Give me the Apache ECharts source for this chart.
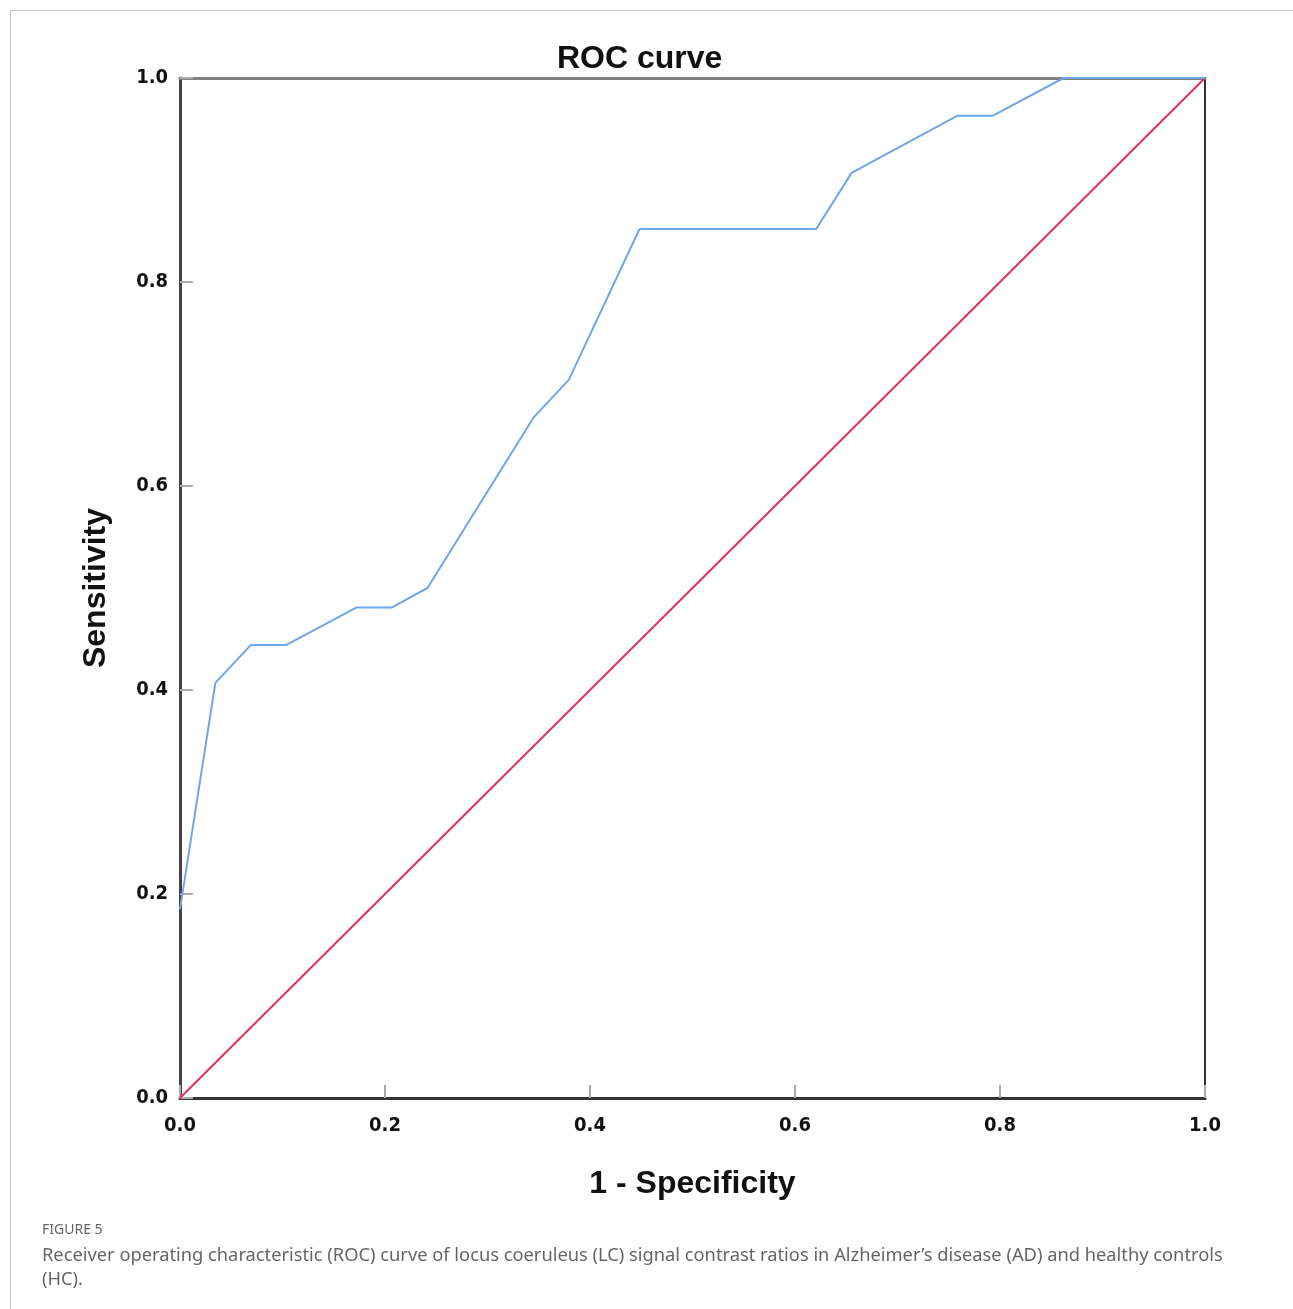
<!DOCTYPE html>
<html>
<head>
<meta charset="utf-8">
<script src="https://cdn.jsdelivr.net/npm/echarts@6/dist/echarts.min.js"></script>
<style>
html,body{margin:0;padding:0;background:#fff;}
#chart{width:1293px;height:1309px;}
</style>
</head>
<body>
<div id="chart"></div>
<script>
// ROC curve points (1 - Specificity, Sensitivity)
const rocX = [0, 0.0345, 0.069, 0.1034, 0.1724, 0.2069, 0.2414, 0.3448, 0.3793, 0.4483, 0.6207, 0.6552, 0.7586, 0.7931, 0.8621, 1.0];
const rocY = [0.185, 0.407, 0.444, 0.444, 0.481, 0.481, 0.5, 0.667, 0.704, 0.852, 0.852, 0.907, 0.963, 0.963, 1.0, 1.0];
// Reference (chance) line
const refX = [0, 1];
const refY = [0, 1];

const titleText = 'ROC curve';
const xName = '1 - Specificity';
const yName = 'Sensitivity';
const figLabel = 'FIGURE 5';
const captionLines = [
  'Receiver operating characteristic (ROC) curve of locus coeruleus (LC) signal contrast ratios in Alzheimer\u2019s disease (AD) and healthy controls',
  '(HC).'
];

const narrow = '"Liberation Sans Narrow", "DejaVu Sans Condensed", "Liberation Sans", sans-serif';
const sans = '"Liberation Sans", Arial, sans-serif';

const chart = echarts.init(document.getElementById('chart'), null, {renderer: 'canvas'});
const labelStyle = {fontFamily: narrow, fontWeight: 'bold', fontSize: 20, color: '#111'};

chart.setOption({
  animation: false,
  backgroundColor: '#fff',
  title: {
    text: titleText,
    left: 552, top: 38,
    textStyle: {fontFamily: sans, fontSize: 32, fontWeight: 'bold', color: '#111'}
  },
  grid: {left: 180, top: 78, width: 1025, height: 1020, containLabel: false},
  xAxis: [{
    type: 'value', min: 0, max: 1, interval: 0.2, position: 'bottom',
    name: xName, nameLocation: 'middle', nameGap: 70,
    nameTextStyle: {fontFamily: sans, fontWeight: 'bold', fontSize: 32, color: '#111'},
    axisLine: {show: true, onZero: false, lineStyle: {color: '#333', width: 3}},
    axisTick: {show: true, inside: true, length: 13, lineStyle: {color: '#aaa', width: 2}},
    axisLabel: Object.assign({margin: 18, formatter: v => v.toFixed(1)}, labelStyle),
    splitLine: {show: false}
  }, {
    type: 'value', min: 0, max: 1, position: 'top',
    axisLine: {show: true, onZero: false, lineStyle: {color: '#808080', width: 3}},
    axisTick: {show: false}, axisLabel: {show: false}, splitLine: {show: false}
  }],
  yAxis: [{
    type: 'value', min: 0, max: 1, interval: 0.2, position: 'left',
    name: yName, nameLocation: 'middle', nameGap: 68, nameRotate: 90,
    nameTextStyle: {fontFamily: sans, fontWeight: 'bold', fontSize: 32, color: '#111'},
    axisLine: {show: true, onZero: false, lineStyle: {color: '#444', width: 3}},
    axisTick: {show: true, inside: true, length: 13, lineStyle: {color: '#aaa', width: 2}},
    axisLabel: Object.assign({margin: 12, formatter: v => v.toFixed(1)}, labelStyle),
    splitLine: {show: false}
  }, {
    type: 'value', min: 0, max: 1, position: 'right',
    axisLine: {show: true, onZero: false, lineStyle: {color: '#333', width: 2}},
    axisTick: {show: false}, axisLabel: {show: false}, splitLine: {show: false}
  }],
  series: [{
    type: 'line', name: 'Reference',
    data: refX.map((x, i) => [x, refY[i]]),
    showSymbol: false, symbol: 'none',
    lineStyle: {color: '#e0325a', width: 2}, z: 3
  }, {
    type: 'line', name: 'ROC',
    data: rocX.map((x, i) => [x, rocY[i]]),
    showSymbol: false, symbol: 'none',
    lineStyle: {color: '#6ea6ea', width: 2}, z: 4
  }],
  graphic: [
    {type: 'line', shape: {x1: 10, y1: 10.5, x2: 1293, y2: 10.5}, style: {stroke: '#c8c8c8', lineWidth: 1}},
    {type: 'line', shape: {x1: 10.5, y1: 10, x2: 10.5, y2: 1309}, style: {stroke: '#c8c8c8', lineWidth: 1}},
    {type: 'text', left: 42, top: 1223, style: {text: figLabel, font: '14px "Noto Sans", sans-serif', fill: '#666'}},
    {type: 'text', left: 42, top: 1244, style: {text: captionLines.join('\n'), font: '18.3px "Noto Sans", sans-serif', fill: '#666', lineHeight: 24}}
  ]
});
</script>
</body>
</html>
